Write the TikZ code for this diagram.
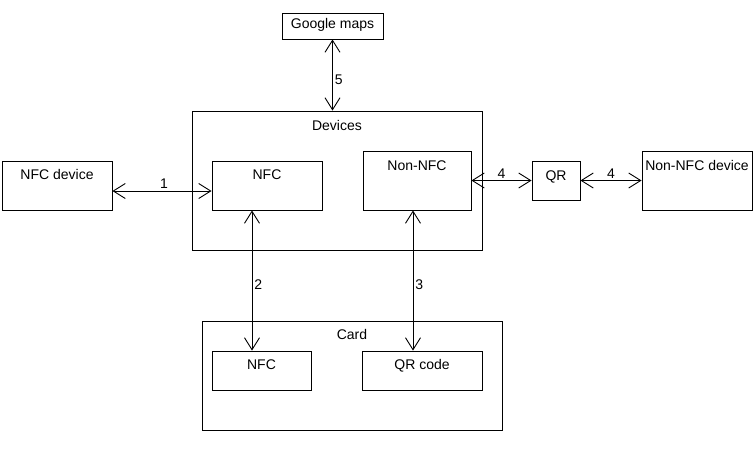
\documentclass[tikz,border=0pt]{standalone}
\usepackage{fontspec}
\setmainfont{Liberation Sans}
\usepackage{tikz}
\usetikzlibrary{arrows.meta,positioning,calc}
\tikzset{
  blockbox/.style={draw,line width=0.9pt,inner sep=0pt},
  toptext/.style={anchor=north,inner sep=0pt,text height=10pt,text depth=3pt,
    font=\fontsize{14}{16}\selectfont},
  linkarrow/.style={{Straight Barb[length=12pt,width=15pt]}-{Straight Barb[length=12pt,width=15pt]},
    line width=0.9pt},
  numlabel/.style={font=\fontsize{14}{16}\selectfont,inner sep=2pt}
}

\begin{document}
\begin{tikzpicture}[x=1pt,y=-1pt]
  \useasboundingbox (0,0) rectangle (756,459);
  \node[blockbox,minimum width=101,minimum height=26,
    label={[toptext,yshift=-6pt]north:Google maps}] (gmaps) at (332.5,26) {};
  \node[blockbox,minimum width=290,minimum height=139,
    label={[toptext,yshift=-10pt]north:Devices}] (devices) at (337,180.5) {};
  \node[blockbox,minimum width=110,minimum height=49,
    label={[toptext,yshift=-9pt]north:NFC device}] (nfcdev) at (57,185.5) {};
  \node[blockbox,minimum width=110,minimum height=49,
    label={[toptext,yshift=-9pt]north:NFC}] (nfc) at (267,185.5) {};
  \node[blockbox,minimum width=108,minimum height=59,
    label={[toptext,yshift=-10pt]north:Non-NFC}] (nonnfc) at (417,180.5) {};
  \node[blockbox,minimum width=48,minimum height=39,
    label={[toptext,yshift=-10pt]north:QR}] (qr) at (556,180.5) {};
  \node[blockbox,minimum width=110,minimum height=59,
    label={[toptext,yshift=-10pt]north:Non-NFC device}] (nonnfcdev) at (697,180.5) {};
  \node[blockbox,minimum width=300,minimum height=109,
    label={[toptext,yshift=-9pt]north:Card}] (card) at (352,375.5) {};
  \node[blockbox,minimum width=99,minimum height=39,
    label={[toptext,yshift=-9pt]north:NFC}] (cardnfc) at (261.5,370.5) {};
  \node[blockbox,minimum width=120,minimum height=39,
    label={[toptext,yshift=-9pt]north:QR code}] (qrcode) at (422,370.5) {};

  \draw[linkarrow] ([yshift=-5.5pt]nfcdev.east) -- node[numlabel,above,pos=0.52] {1} ([yshift=-5.5pt]nfc.west);
  \draw[linkarrow] ([xshift=-15pt]nfc.south) -- node[numlabel,right,pos=0.53] {2} ([xshift=-15pt]nfc.south |- cardnfc.north);
  \draw[linkarrow] ([xshift=-4pt]nonnfc.south) -- node[numlabel,right,pos=0.53] {3} ([xshift=-4pt]nonnfc.south |- qrcode.north);
  \draw[linkarrow] (nonnfc.east) -- node[numlabel,above] {4} (qr.west);
  \draw[linkarrow] (qr.east) -- node[numlabel,above] {4} (nonnfcdev.west);
  \draw[linkarrow] (gmaps.south) -- node[numlabel,right,pos=0.57] {5} (gmaps.south |- devices.north);
\end{tikzpicture}
\end{document}
